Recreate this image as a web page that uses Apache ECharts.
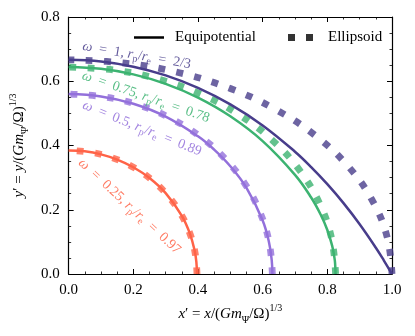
<!DOCTYPE html>
<html><head><meta charset="utf-8">
<script src="https://cdn.jsdelivr.net/npm/echarts@6/dist/echarts.min.js"></script>
<style>html,body{margin:0;padding:0;background:#fff}#c{width:415px;height:336px}</style>
</head><body><div id="c"></div>
<script>
// ---------- data ----------
const xTickLabels = ['0.0', '0.2', '0.4', '0.6', '0.8', '1.0'];
const yTickLabels = ['0.0', '0.2', '0.4', '0.6', '0.8'];
const omegaValues = ['0.25', '0.5', '0.75', '1'];
const ratioValues = ['0.97', '0.89', '0.78', '2/3'];
const legendNames = ['Equipotential', 'Ellipsoid'];

// equipotential curves [x', y']
const equip025 = [[0,0.3848],[0.05,0.3818],[0.1,0.3724],[0.15,0.3562],[0.2,0.3323],[0.25,0.2987],[0.3,0.2517],[0.35,0.1812],[0.375,0.1258],[0.39,0.0711],[0.395,0.0371],[0.3969,0]];
const equip050 = [[0,0.5600],[0.1,0.5526],[0.2,0.5298],[0.3,0.4899],[0.4,0.4286],[0.45,0.3872],[0.5,0.3355],[0.55,0.2679],[0.6,0.1667],[0.62,0.0968],[0.628,0.0430],[0.630,0]];
const equip075 = [[0,0.6443],[0.1,0.6386],[0.2,0.6213],[0.3,0.5918],[0.4,0.5490],[0.5,0.4909],[0.6,0.4137],[0.7,0.3087],[0.75,0.2380],[0.78,0.1837],[0.8,0.1368],[0.815,0.0874],[0.822,0.0502],[0.824,0.0329],[0.8255,0]];
const equip100 = [[0,0.6667],[0.1,0.6614],[0.2,0.6454],[0.3,0.6184],[0.4,0.5796],[0.5,0.5281],[0.6,0.4625],[0.7,0.3807],[0.75,0.3328],[0.8,0.2796],[0.85,0.2206],[0.9,0.1550],[0.95,0.0819],[0.975,0.0419],[1.0,0]];

// ellipsoids [x', y'] from equator to pole
const ellip025 = [[0.3969,0],[0.3909,0.0668],[0.3730,0.1316],[0.3437,0.1924],[0.3040,0.2473],[0.2551,0.2948],[0.1985,0.3333],[0.1357,0.3616],[0.0689,0.3790],[0,0.3848]];
const ellip050 = [[0.6300,0],[0.6204,0.0972],[0.5920,0.1915],[0.5456,0.2800],[0.4826,0.3600],[0.4050,0.4290],[0.3150,0.4850],[0.2155,0.5262],[0.1094,0.5515],[0,0.5600]];
const ellip075 = [[0.8255,0],[0.8130,0.1118],[0.7757,0.2203],[0.7149,0.3221],[0.6324,0.4140],[0.5306,0.4934],[0.4128,0.5578],[0.2823,0.6053],[0.1433,0.6343],[0,0.6441]];
const ellip100 = [[1.0,0],[0.9848,0.1158],[0.9397,0.2280],[0.8660,0.3333],[0.7660,0.4285],[0.6428,0.5107],[0.5,0.5774],[0.3420,0.6265],[0.1736,0.6565],[0,0.6667]];

// ---------- layout / style ----------
const colors = ['#FF6347', '#9370DB', '#3CB371', '#483D8B'];
const equipSets = [equip025, equip050, equip075, equip100];
const ellipSets = [ellip025, ellip050, ellip075, ellip100];
const annAnchors = [[0.036, 0.352], [0.045, 0.527], [0.043, 0.619], [0.043, 0.709]];
const annAngles = [42.7, 22, 19, 9.6];
const SERIF = '"Liberation Serif", "DejaVu Serif", serif';

const chart = echarts.init(document.getElementById('c'), null, {renderer: 'canvas'});

const series = [];
for (let i = 0; i < 4; i++) {
  series.push({
    type: 'line', data: equipSets[i], showSymbol: false, symbol: 'none', smooth: 0.4,
    lineStyle: {color: colors[i], width: 2.5}, z: 2 + i * 2, silent: true
  });
  series.push({
    type: 'line', data: ellipSets[i], showSymbol: false, symbol: 'none', smooth: 0.4,
    lineStyle: {color: colors[i], width: 6.8, type: [6.8, 11.5], dashOffset: 0, opacity: 0.8, cap: 'butt'},
    z: 3 + i * 2, silent: true, clip: false
  });
}
series.push({name: legendNames[0], type: 'line', data: [], color: '#000'});
series.push({name: legendNames[1], type: 'line', data: [], color: '#333'});

const nameRich = {
  i: {fontStyle: 'italic', fontFamily: SERIF, fontSize: 15, lineHeight: 22, color: '#000'},
  n: {fontFamily: SERIF, fontSize: 15, lineHeight: 22, color: '#000'},
  sub: {fontFamily: SERIF, fontSize: 10, lineHeight: 10, verticalAlign: 'bottom', color: '#000'},
  sup: {fontFamily: SERIF, fontSize: 10, lineHeight: 10, verticalAlign: 'top', color: '#000'}
};
const axisName = v => `{i|${v}}{n|′ = }{i|${v}}{n|/(}{i|Gm}{sub|Ψ}{n|/Ω)}{sup|1/3}`;

function mkAxis(kind, pos, main) {
  const isX = kind === 'x';
  const ax = {
    type: 'value', min: 0, max: isX ? 1 : 0.8, interval: 0.2, position: pos,
    axisLine: {show: true, onZero: false, lineStyle: {color: '#000', width: 1.2}},
    axisTick: {show: true, inside: true, length: 5, lineStyle: {color: '#000', width: 1}},
    minorTick: {show: true, splitNumber: 4, length: 2.5, lineStyle: {color: '#000', width: 0.8}},
    splitLine: {show: false}, minorSplitLine: {show: false},
    axisLabel: {show: main, margin: 9, color: '#000', fontFamily: SERIF, fontSize: 15,
      formatter: (v, idx) => (isX ? xTickLabels : yTickLabels)[Math.round(v / 0.2)]}
  };
  if (main) {
    ax.name = axisName(isX ? 'x' : 'y');
    ax.nameLocation = 'middle';
    ax.nameGap = isX ? 28 : 36;
    ax.nameTextStyle = {rich: nameRich};
  }
  return ax;
}

chart.setOption({
  animation: false,
  backgroundColor: '#fff',
  grid: {left: 66, right: 23, top: 17, bottom: 62, containLabel: false},
  xAxis: [mkAxis('x', 'bottom', true), mkAxis('x', 'top', false)],
  yAxis: [mkAxis('y', 'left', true), mkAxis('y', 'right', false)],
  legend: [
    {data: [{name: legendNames[0], icon: 'rect', itemStyle: {color: '#000'}}],
     left: 129, top: 25, itemWidth: 30, itemHeight: 2.5, selectedMode: false,
     textStyle: {fontFamily: SERIF, fontSize: 15, color: '#000', padding: [0, 0, 0, 6]}},
    {data: [{name: legendNames[1], icon: 'path://M0,0h7v7h-7z M18,0h7v7h-7z', itemStyle: {color: '#333'}}],
     left: 283, top: 25, itemWidth: 25, itemHeight: 7, selectedMode: false,
     textStyle: {fontFamily: SERIF, fontSize: 15, color: '#000', padding: [0, 0, 0, 10]}}
  ],
  series: series
});

// annotations placed through the grid's coordinate system
const graphics = [];
for (let i = 0; i < 4; i++) {
  const p = chart.convertToPixel({gridIndex: 0}, annAnchors[i]);
  const txt = `{i|ω}{n|  =  ${omegaValues[i]}, }{i|r}{s|p}{n|/}{i|r}{s|e}{n|  =  ${ratioValues[i]}}`;
  graphics.push({
    type: 'text', x: p[0], y: p[1], rotation: -annAngles[i] * Math.PI / 180, silent: true, z: 20,
    style: {
      text: txt, align: 'left', verticalAlign: 'middle', fill: colors[i], opacity: 0.85,
      font: '14px ' + SERIF,
      rich: {
        i: {fontStyle: 'italic', fontSize: 14, fontFamily: SERIF, fill: colors[i], lineHeight: 18},
        n: {fontSize: 14, fontFamily: SERIF, fill: colors[i], lineHeight: 18},
        s: {fontSize: 10, fontFamily: SERIF, fill: colors[i], lineHeight: 10, verticalAlign: 'bottom'}
      }
    }
  });
}
chart.setOption({graphic: graphics});
</script>
</body></html>
